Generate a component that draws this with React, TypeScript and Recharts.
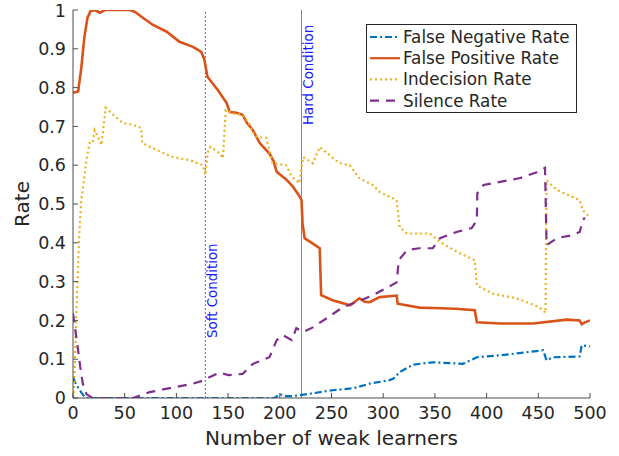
import React from 'react';
import { LineChart, Line, XAxis, YAxis, ReferenceLine } from 'recharts';

// x = number of weak learners, y = rate
const fnX = [0, 3, 6.5, 10, 13, 195, 200, 205, 212, 219, 229, 251, 271, 287, 306, 310, 316, 329, 348, 377, 390.6, 413, 439, 454.7, 458, 464, 490, 492, 500];
const fnY = [0.053, 0.035, 0.02, 0.007, 0, 0, 0.01, 0.005, 0.005, 0.007, 0.011, 0.02, 0.025, 0.037, 0.046, 0.05, 0.067, 0.086, 0.092, 0.088, 0.105, 0.11, 0.118, 0.123, 0.097, 0.105, 0.107, 0.136, 0.133];

const fpX = [0, 5, 8, 11, 14, 17, 21, 26, 31, 55, 60, 67.6, 77, 90.6, 103, 116, 124, 127, 130, 140, 142, 148.6, 151.6, 158, 164, 168, 174, 180.6, 190, 194, 197, 206.7, 212.6, 219, 221, 222, 224, 238.6, 240, 251, 268, 277, 282, 287, 296.6, 313, 314, 335, 348, 370, 388.6, 390.6, 413, 445, 477.6, 490, 492, 495, 500];
const fpY = [0.787, 0.79, 0.85, 0.93, 0.98, 0.997, 1, 0.993, 1, 1, 0.995, 0.98, 0.962, 0.944, 0.918, 0.905, 0.892, 0.873, 0.828, 0.794, 0.786, 0.76, 0.737, 0.735, 0.73, 0.71, 0.69, 0.657, 0.63, 0.61, 0.583, 0.562, 0.545, 0.52, 0.51, 0.45, 0.412, 0.386, 0.265, 0.252, 0.239, 0.257, 0.248, 0.247, 0.26, 0.264, 0.243, 0.233, 0.232, 0.23, 0.226, 0.195, 0.192, 0.192, 0.202, 0.2, 0.19, 0.195, 0.2];

const irX = [0, 1, 3.6, 6, 8, 10, 13, 16, 19, 21, 24, 27.5, 31.6, 38.6, 48, 58, 66, 67, 81, 96.6, 113, 125.6, 128, 130.6, 133, 142, 145, 147.7, 154.6, 164, 171, 176, 187, 193, 206, 211.6, 219, 222.5, 232, 238.6, 251.6, 258, 267.6, 277, 290, 296.6, 313, 316, 323, 345, 355, 374, 388.6, 390.6, 406, 429, 451, 457, 458, 468, 490, 493, 498, 500];
const irY = [0, 0.02, 0.25, 0.42, 0.51, 0.55, 0.613, 0.657, 0.657, 0.69, 0.674, 0.652, 0.748, 0.731, 0.709, 0.704, 0.696, 0.657, 0.639, 0.621, 0.613, 0.6, 0.575, 0.639, 0.647, 0.63, 0.618, 0.742, 0.733, 0.73, 0.704, 0.674, 0.67, 0.605, 0.6, 0.57, 0.554, 0.621, 0.605, 0.647, 0.618, 0.605, 0.6, 0.566, 0.549, 0.531, 0.51, 0.44, 0.424, 0.424, 0.402, 0.373, 0.355, 0.29, 0.269, 0.257, 0.234, 0.22, 0.561, 0.536, 0.51, 0.484, 0.471, 0.47];

const srX = [0, 2, 4.6, 7, 9.5, 13, 19, 58, 74, 96.7, 116, 126, 129, 142, 150, 164, 174, 190, 197, 203, 211.6, 216, 222.5, 232, 245, 261, 274, 290, 303, 313, 315, 323, 335, 348, 355, 371, 385.6, 390.6, 391, 397, 413, 432.6, 448.6, 456.5, 458, 468, 483.6, 490, 493, 495];
const srY = [0.218, 0.18, 0.13, 0.08, 0.037, 0.01, 0, 0, 0.015, 0.027, 0.037, 0.045, 0.05, 0.066, 0.059, 0.062, 0.088, 0.105, 0.149, 0.162, 0.149, 0.18, 0.17, 0.182, 0.205, 0.234, 0.247, 0.265, 0.283, 0.298, 0.355, 0.381, 0.386, 0.386, 0.412, 0.428, 0.438, 0.458, 0.528, 0.549, 0.557, 0.567, 0.582, 0.593, 0.394, 0.412, 0.42, 0.428, 0.458, 0.465];

const xTicks = [0, 50, 100, 150, 200, 250, 300, 350, 400, 450, 500];
const yTicks = [0, 0.1, 0.2, 0.3, 0.4, 0.5, 0.6, 0.7, 0.8, 0.9, 1];

const softX = 128;
const hardX = 221;
const condY = [0, 1];

const toPoints = (xs: number[], ys: number[]) => xs.map((x, i) => ({ x, y: ys[i] }));

const series = [
  { name: 'False Negative Rate', data: toPoints(fnX, fnY), color: '#0072BD', dash: '7 3 2 3' },
  { name: 'False Positive Rate', data: toPoints(fpX, fpY), color: '#D95319', dash: undefined },
  { name: 'Indecision Rate', data: toPoints(irX, irY), color: '#EDB120', dash: '2 3' },
  { name: 'Silence Rate', data: toPoints(srX, srY), color: '#7E2F8E', dash: '9 7' },
];

// condition markers as two-point vertical series
const condLines = [
  { name: 'soft', data: toPoints([softX, softX], condY), color: '#5a5aff', dash: '2 2' },
  { name: 'hard', data: toPoints([hardX, hardX], condY), color: '#7a7aff', dash: undefined },
];

const FONT = '"DejaVu Sans", sans-serif';
const TICK_FONT = 17.5;
const LABEL_FONT = 20;

// legend drawn as a plain overlay so it doesn't shrink the plot area
const LegendBox = () => (
  <svg width={211} height={89} style={{ position: 'absolute', left: 366, top: 24, display: 'block' }}>
    <rect x={0.5} y={0.5} width={210} height={88} fill="#fff" stroke="#262626" strokeWidth={1} />
    {series.map((s, i) => (
      <g key={s.name}>
        <line x1={4} x2={34} y1={13 + i * 21.2} y2={13 + i * 21.2} stroke={s.color} strokeWidth={2.2} strokeDasharray={s.dash} />
        <text x={37} y={13 + i * 21.2} dy="0.36em" fontSize={16.8} fill="#262626" fontFamily={FONT}>{s.name}</text>
      </g>
    ))}
  </svg>
);

const condLabel = (text: string, anchorY: number, anchor: 'start' | 'end') => (props: any) => {
  const vb = props.viewBox || {};
  const x = (vb.x || 0) + 11.5;
  const y = (vb.y || 0) + anchorY;
  return (
    <text transform={`translate(${x}, ${y}) rotate(-90)`} textAnchor={anchor} fontSize={13.4} fill="#1a1aff" fontFamily={FONT}>
      {text}
    </text>
  );
};

export default function App() {
  return (
    <div style={{ position: 'absolute', left: 0, top: 0, width: 619, height: 456, background: '#fff' }}>
      <LineChart width={619} height={456} margin={{ top: 10, right: 29, left: 13, bottom: 8 }} style={{ fontFamily: FONT }}>
        <XAxis
          type="number"
          dataKey="x"
          domain={[0, 500]}
          ticks={xTicks}
          allowDataOverflow
          height={50}
          tickSize={-5}
          tickMargin={14}
          stroke="#4d4d4d"
          tick={{ fill: '#262626', fontSize: TICK_FONT, fontFamily: FONT }}
          label={{ value: 'Number of weak learners', position: 'insideBottom', offset: 3, fill: '#262626', fontSize: LABEL_FONT, fontFamily: FONT }}
        />
        <YAxis
          type="number"
          domain={[0, 1]}
          ticks={yTicks}
          allowDataOverflow
          width={60}
          tickSize={-5}
          tickMargin={12}
          stroke="#4d4d4d"
          tickFormatter={(v: number) => String(Math.round(v * 10) / 10)}
          tick={{ fill: '#262626', fontSize: TICK_FONT, fontFamily: FONT }}
          label={{ value: 'Rate', angle: -90, position: 'insideLeft', offset: 9, fill: '#262626', fontSize: LABEL_FONT, fontFamily: FONT, style: { textAnchor: 'middle' } }}
        />
        {condLines.map((c) => (
          <Line
            key={c.name}
            data={c.data}
            dataKey="y"
            type="linear"
            stroke={c.color}
            strokeWidth={1}
            strokeDasharray={c.dash}
            dot={false}
            activeDot={false}
            legendType="none"
            isAnimationActive={false}
          />
        ))}
        <ReferenceLine x={softX} strokeOpacity={0} label={condLabel('Soft Condition', 328, 'start')} />
        <ReferenceLine x={hardX} strokeOpacity={0} label={condLabel('Hard Condition', 115, 'start')} />
        {series.map((s) => (
          <Line
            key={s.name}
            data={s.data}
            dataKey="y"
            name={s.name}
            type="linear"
            stroke={s.color}
            strokeWidth={s.dash ? 2.2 : 2.6}
            strokeDasharray={s.dash}
            dot={false}
            activeDot={false}
            isAnimationActive={false}
          />
        ))}
      </LineChart>
      <LegendBox />
    </div>
  );
}
